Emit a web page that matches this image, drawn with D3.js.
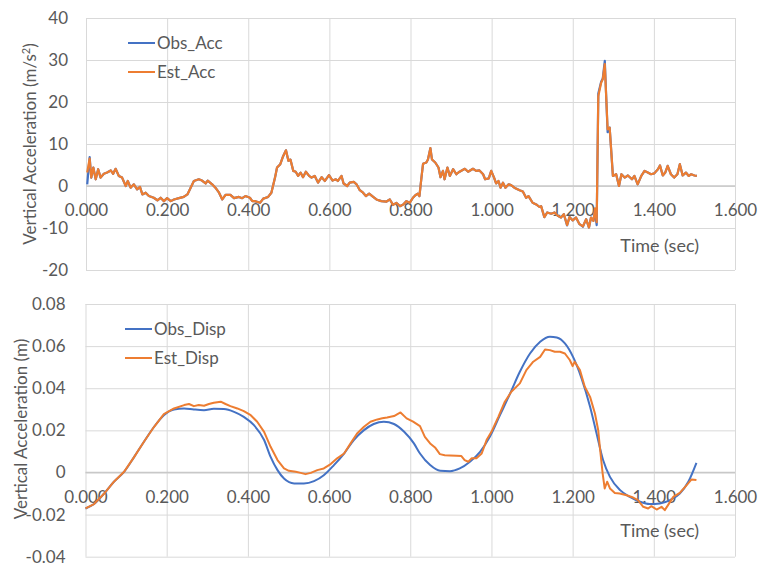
<!DOCTYPE html>
<html>
<head>
<meta charset="utf-8">
<script src="https://cdn.jsdelivr.net/npm/d3@7"></script>
<style>
  body { margin: 0; background: #fff; }
  text { font-family: Lato, "Open Sans", sans-serif; fill: #595959; }
</style>
</head>
<body>
<script>
// shared time axis
const xTicks = [0, 0.2, 0.4, 0.6, 0.8, 1.0, 1.2, 1.4, 1.6];
const xLabels = ["0.000", "0.200", "0.400", "0.600", "0.800", "1.000", "1.200", "1.400", "1.600"];

// acceleration panel (m/s2)
const accYTicks = [-20, -10, 0, 10, 20, 30, 40];
const accYLabels = ["-20", "-10", "0", "10", "20", "30", "40"];
const accT = [0.003,0.009,0.013,0.018,0.024,0.030,0.036,0.044,0.052,0.061,0.067,0.073,0.081,0.089,0.098,0.103,0.110,0.118,0.126,0.133,
  0.139,0.147,0.155,0.167,0.176,0.184,0.192,0.200,0.209,0.217,0.229,0.241,0.250,0.258,0.266,0.278,0.286,0.295,0.300,0.311,
  0.319,0.328,0.336,0.344,0.356,0.365,0.377,0.385,0.393,0.404,0.410,0.416,0.429,0.437,0.449,0.457,0.466,0.471,0.479,0.486,
  0.493,0.499,0.504,0.511,0.517,0.523,0.529,0.535,0.542,0.550,0.556,0.564,0.572,0.581,0.589,0.599,0.608,0.616,0.621,0.630,
  0.635,0.644,0.650,0.660,0.667,0.675,0.683,0.690,0.698,0.708,0.716,0.728,0.741,0.749,0.757,0.765,0.774,0.782,0.790,0.798,
  0.806,0.812,0.818,0.822,0.827,0.831,0.839,0.843,0.849,0.853,0.861,0.869,0.874,0.880,0.884,0.891,0.897,0.905,0.913,0.921,
  0.934,0.942,0.954,0.962,0.970,0.979,0.984,0.993,0.999,1.006,1.011,1.017,1.022,1.028,1.034,1.042,1.048,1.056,1.069,1.077,
  1.085,1.091,1.101,1.110,1.118,1.122,1.130,1.137,1.147,1.155,1.163,1.171,1.178,1.186,1.192,1.200,1.208,1.216,1.225,1.233,
  1.240,1.245,1.251,1.255,1.259,1.263,1.270,1.274,1.279,1.282,1.286,1.291,1.299,1.307,1.314,1.320,1.328,1.336,1.346,1.352,
  1.360,1.369,1.377,1.385,1.393,1.401,1.410,1.415,1.422,1.428,1.434,1.442,1.450,1.458,1.464,1.471,1.479,1.486,1.492,1.500,1.506];
const obsAcc = [0.4,6.9,2.0,4.4,1.6,4.0,2.0,2.9,3.2,3.7,2.9,4.1,2.4,2.0,0.0,1.2,-0.4,0.4,-0.8,-0.2,
  -2.0,-1.6,-2.4,-2.8,-3.4,-2.8,-3.6,-2.9,-3.6,-3.2,-2.9,-2.6,-2.0,-0.4,1.2,1.6,1.3,0.6,1.3,0.4,
  -0.4,-1.6,-3.2,-2.1,-2.1,-2.9,-2.6,-2.9,-2.4,-2.8,-3.6,-3.6,-4.0,-3.0,-2.6,-1.6,2.0,4.4,5.2,7.1,
  8.5,6.0,6.3,3.6,3.4,2.4,3.2,2.1,3.4,2.4,2.0,2.4,0.8,2.1,1.2,2.6,1.3,1.6,1.2,2.4,
  0.6,0.0,0.8,1.0,0.4,-1.0,-1.6,-2.4,-1.8,-2.6,-3.2,-3.6,-3.7,-3.2,-4.5,-4.0,-4.8,-4.4,-3.6,-4.0,
  -2.8,-2.2,-1.8,-2.4,2.0,5.3,5.6,6.3,9.0,6.3,5.6,4.4,2.1,3.6,1.6,4.4,2.4,4.0,2.8,3.4,
  4.1,3.4,4.1,3.6,3.7,2.8,1.6,1.8,3.6,2.0,0.6,1.2,-0.4,0.8,-0.4,0.4,0.2,-0.4,-1.0,-1.3,
  -2.8,-2.4,-4.0,-4.4,-5.0,-4.8,-7.4,-6.3,-6.6,-6.3,-7.1,-7.5,-6.7,-9.4,-7.4,-8.2,-7.5,-9.0,-9.7,-7.9,
  -9.9,-7.5,-8.3,-6.3,-9.3,22.0,24.8,25.6,29.8,22.4,12.8,13.9,2.4,2.8,0.0,2.8,2.0,2.5,1.6,2.4,
  0.4,2.4,3.6,3.2,2.8,3.0,4.0,4.9,2.5,3.2,4.8,2.8,2.0,2.8,5.2,2.5,3.2,2.4,2.8,2.5,2.4];
const estAcc = [3.2,6.5,2.0,4.4,1.6,4.0,2.0,2.9,3.2,3.7,2.9,4.1,2.4,2.0,0.0,1.2,-0.4,0.4,-0.8,-0.2,
  -2.0,-1.6,-2.4,-2.8,-3.4,-2.8,-3.6,-2.9,-3.6,-3.2,-2.9,-2.6,-2.0,-0.4,1.2,1.6,1.3,0.6,1.3,0.4,
  -0.4,-1.6,-3.2,-2.1,-2.1,-2.9,-2.6,-2.9,-2.4,-2.8,-3.6,-3.6,-4.0,-3.0,-2.6,-1.6,2.0,4.4,5.2,7.1,
  8.5,6.0,6.3,3.6,3.4,2.4,3.2,2.1,3.4,2.4,2.0,2.4,0.8,2.1,1.2,2.6,1.3,1.6,1.2,2.4,
  0.6,0.0,0.8,1.0,0.4,-1.0,-1.6,-2.4,-1.8,-2.6,-3.2,-3.6,-3.7,-3.2,-4.5,-4.0,-4.8,-4.4,-3.6,-4.0,
  -2.8,-2.2,-1.8,-2.4,2.0,5.3,5.6,6.3,9.0,6.3,5.6,4.4,2.1,3.6,1.6,4.4,2.4,4.0,2.8,3.4,
  4.1,3.4,4.1,3.6,3.7,2.8,1.6,1.8,3.6,2.0,0.6,1.2,-0.4,0.8,-0.4,0.4,0.2,-0.4,-1.0,-1.3,
  -2.8,-2.4,-4.0,-4.4,-5.0,-4.8,-7.4,-6.3,-6.6,-6.3,-7.1,-7.5,-6.7,-9.3,-7.4,-8.2,-7.5,-9.0,-9.6,-7.9,
  -9.9,-7.5,-8.3,-5.3,-8.6,21.4,24.6,25.4,29.0,22.2,13.5,13.9,2.4,2.8,0.0,2.8,2.0,2.5,1.6,2.4,
  0.4,2.4,3.6,3.2,2.8,3.0,4.0,4.9,2.5,3.2,4.8,2.8,2.0,2.8,5.2,2.5,3.2,2.4,2.8,2.5,2.4];

// displacement panel (m)
const dispYTicks = [-0.04, -0.02, 0, 0.02, 0.04, 0.06, 0.08];
const dispYLabels = ["-0.04", "-0.02", "0", "0.02", "0.04", "0.06", "0.08"];
const obsDispT = [0.000,0.021,0.046,0.070,0.095,0.120,0.144,0.169,0.193,0.218,0.243,0.267,0.292,0.316,0.341,0.366,0.390,0.415,0.440,0.456,
  0.473,0.489,0.514,0.538,0.563,0.587,0.612,0.637,0.661,0.686,0.710,0.735,0.760,0.785,0.809,0.824,0.849,0.874,0.898,0.922,
  0.947,0.972,0.996,1.021,1.046,1.070,1.095,1.120,1.144,1.161,1.181,1.201,1.222,1.243,1.259,1.275,1.292,1.317,1.341,1.366,
  1.390,1.415,1.440,1.464,1.485,1.505];
const obsDisp = [-0.0171,-0.0150,-0.0100,-0.0044,0.0003,0.0074,0.0146,0.0217,0.0272,0.0299,0.0304,0.0299,0.0296,0.0302,0.0301,0.0288,0.0264,0.0225,0.0154,0.0074,
  0.0011,-0.0029,-0.0052,-0.0052,-0.0041,-0.0013,0.0035,0.0090,0.0154,0.0201,0.0230,0.0241,0.0230,0.0193,0.0138,0.0090,0.0035,0.0008,0.0006,0.0019,
  0.0051,0.0098,0.0169,0.0272,0.0375,0.0478,0.0565,0.0621,0.0645,0.0641,0.0613,0.0549,0.0447,0.0312,0.0185,0.0059,-0.0021,-0.0084,-0.0116,-0.0139,
  -0.0150,-0.0147,-0.0131,-0.0100,-0.0044,0.0046];
const estDispT = [0.000,0.021,0.046,0.070,0.095,0.120,0.144,0.169,0.193,0.218,0.243,0.255,0.267,0.279,0.292,0.304,0.316,0.333,0.345,0.357,
  0.374,0.390,0.407,0.423,0.440,0.456,0.473,0.489,0.501,0.518,0.530,0.542,0.555,0.571,0.587,0.604,0.620,0.637,0.653,0.669,
  0.686,0.702,0.719,0.731,0.743,0.760,0.776,0.791,0.807,0.824,0.836,0.849,0.861,0.873,0.885,0.898,0.914,0.926,0.934,0.943,
  0.951,0.963,0.976,0.988,1.000,1.017,1.033,1.049,1.070,1.086,1.103,1.120,1.132,1.144,1.156,1.169,1.181,1.193,1.200,1.205,
  1.218,1.230,1.243,1.255,1.263,1.267,1.274,1.279,1.285,1.292,1.304,1.316,1.333,1.349,1.361,1.374,1.386,1.394,1.407,1.419,
  1.427,1.435,1.448,1.464,1.481,1.493,1.505];
const estDisp = [-0.0171,-0.0150,-0.0100,-0.0044,0.0003,0.0074,0.0146,0.0217,0.0277,0.0304,0.0320,0.0325,0.0315,0.0320,0.0317,0.0325,0.0331,0.0336,0.0325,0.0315,
  0.0304,0.0291,0.0272,0.0241,0.0193,0.0122,0.0059,0.0019,0.0008,0.0003,-0.0002,-0.0008,-0.0002,0.0011,0.0019,0.0040,0.0067,0.0090,0.0138,0.0185,
  0.0217,0.0241,0.0252,0.0257,0.0261,0.0268,0.0285,0.0257,0.0241,0.0220,0.0169,0.0138,0.0119,0.0087,0.0082,0.0081,0.0079,0.0078,0.0059,0.0051,
  0.0067,0.0067,0.0090,0.0154,0.0193,0.0264,0.0336,0.0383,0.0423,0.0486,0.0526,0.0549,0.0584,0.0581,0.0573,0.0573,0.0565,0.0534,0.0505,0.0526,
  0.0486,0.0407,0.0359,0.0280,0.0201,0.0122,-0.0005,-0.0076,-0.0044,-0.0076,-0.0097,-0.0100,-0.0108,-0.0119,-0.0131,-0.0163,-0.0171,-0.0160,-0.0176,-0.0163,
  -0.0179,-0.0155,-0.0116,-0.0097,-0.0060,-0.0033,-0.0036];

const blue = '#4472c4', orange = '#ed7d31';
const fontSize = 17;

const svg = d3.select('body').append('svg')
  .attr('width', 760)
  .attr('height', 568);

function drawPanel(p) {
  const x = d3.scaleLinear().domain([0, 1.6]).range([p.left, p.right]);
  const y = d3.scaleLinear().domain([p.yTicks[0], p.yTicks[p.yTicks.length - 1]]).range([p.bottom, p.top]);
  const g = svg.append('g');

  // horizontal grid + y labels
  g.append('g')
    .attr('transform', `translate(${p.left},0)`)
    .call(d3.axisLeft(y).tickValues(p.yTicks).tickSize(-(p.right - p.left)).tickPadding(p.yPad)
      .tickFormat((d, i) => p.yLabels[i]))
    .attr('font-size', fontSize)
    .call(a => a.select('.domain').remove())
    .call(a => a.selectAll('line').attr('stroke', '#d9d9d9'));

  // vertical grid
  g.append('g')
    .attr('transform', `translate(0,${p.bottom})`)
    .call(d3.axisBottom(x).tickValues(xTicks).tickSize(-(p.bottom - p.top)).tickFormat(''))
    .call(a => a.select('.domain').remove())
    .call(a => a.selectAll('line').attr('stroke', '#d9d9d9'));

  // zero axis line
  g.append('line')
    .attr('x1', p.left).attr('x2', p.right)
    .attr('y1', y(0)).attr('y2', y(0))
    .attr('stroke', '#c8c8c8')
    .attr('stroke-width', 1.5);

  // x labels sit under the zero line
  g.append('g')
    .attr('transform', `translate(0,${y(0)})`)
    .call(d3.axisBottom(x).tickValues(xTicks).tickSize(0).tickPadding(18).tickFormat((d, i) => xLabels[i]))
    .attr('font-size', fontSize)
    .call(a => a.select('.domain').remove());

  p.series.forEach(s => {
    g.append('path')
      .datum(d3.zip(s.t, s.v))
      .attr('fill', 'none')
      .attr('stroke', s.color)
      .attr('stroke-width', p.lineWidth)
      .attr('stroke-linejoin', 'round')
      .attr('d', d3.line().x(d => x(d[0])).y(d => y(d[1])).curve(s.curve || d3.curveLinear));
  });

  g.append('text')
    .attr('x', p.xTitleX).attr('y', p.xTitleY)
    .attr('text-anchor', 'end')
    .attr('font-size', 18)
    .text('Time (sec)');

  const yt = g.append('text')
    .attr('transform', `translate(${p.yTitleX},${p.yTitleY})rotate(-90)`)
    .attr('text-anchor', 'middle')
    .attr('font-size', fontSize)
    .text(p.yTitle);
  if (p.yTitleSup) {
    yt.append('tspan').attr('baseline-shift', 'super').attr('font-size', 11).text(p.yTitleSup);
    yt.append('tspan').text(')');
  }

  // legend
  p.series.forEach((s, i) => {
    const ly = p.legendY + i * p.legendGap;
    g.append('line')
      .attr('x1', p.legendX).attr('x2', p.legendX + 27)
      .attr('y1', ly).attr('y2', ly)
      .attr('stroke', s.color).attr('stroke-width', 2);
    g.append('text')
      .attr('x', p.legendX + 29).attr('y', ly)
      .attr('dy', '0.35em')
      .attr('font-size', fontSize)
      .text(s.name);
  });
}

drawPanel({
  left: 86, right: 735, top: 18, bottom: 270,
  yTicks: accYTicks, yLabels: accYLabels, yPad: 18,
  lineWidth: 2.2,
  xTitleX: 699, xTitleY: 252,
  yTitle: 'Vertical Acceleration (m/s', yTitleSup: '2',
  yTitleX: 36, yTitleY: 144,
  legendX: 128, legendY: 43, legendGap: 29,
  series: [
    { name: 'Obs_Acc', t: accT, v: obsAcc, color: blue },
    { name: 'Est_Acc', t: accT, v: estAcc, color: orange }
  ]
});

drawPanel({
  left: 85.5, right: 735, top: 304, bottom: 556.7,
  yTicks: dispYTicks, yLabels: dispYLabels, yPad: 20,
  lineWidth: 2,
  xTitleX: 699, xTitleY: 537,
  yTitle: 'Vertical Acceleration (m)',
  yTitleX: 27, yTitleY: 429,
  legendX: 125, legendY: 329, legendGap: 29,
  series: [
    { name: 'Obs_Disp', t: obsDispT, v: obsDisp, color: blue, curve: d3.curveMonotoneX },
    { name: 'Est_Disp', t: estDispT, v: estDisp, color: orange }
  ]
});
</script>
</body>
</html>
